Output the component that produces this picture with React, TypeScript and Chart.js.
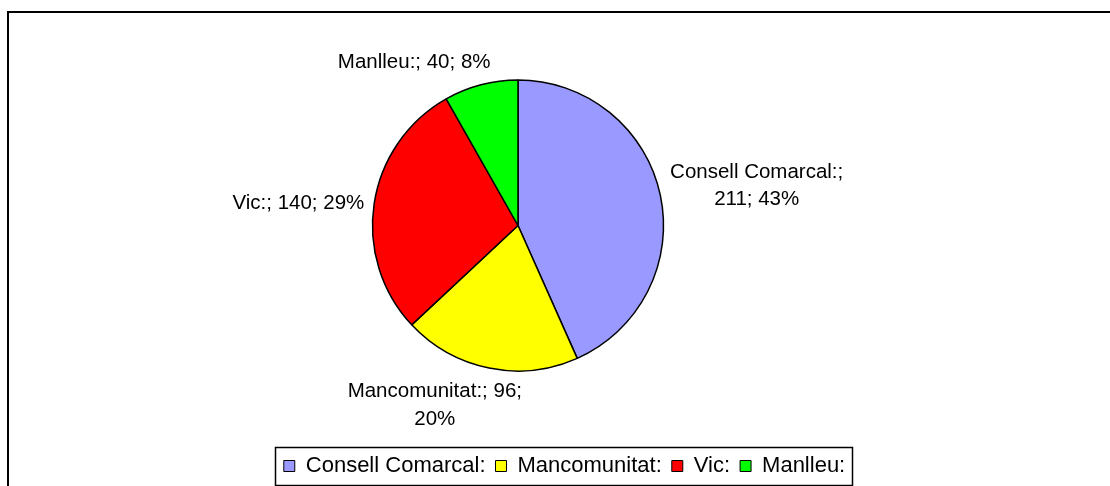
import React, { useEffect, useRef } from 'react';
import { Chart, registerables } from 'chart.js';

Chart.register(...registerables);

// ---- data ----
const categories = ['Consell Comarcal:', 'Mancomunitat:', 'Vic:', 'Manlleu:'];
const values = [211, 96, 140, 40];
const colors = ['#9999FF', '#FFFF00', '#FF0000', '#00FF00'];

// ---- label placement (alignment of label box relative to anchor on slice ray) ----
const labelAlign: [number, number][] = [
  [0, 0.635],
  [0.8, 0],
  [1, 0.45],
  [0.92, 0.95],
];

const FONT = "'Liberation Sans', Arial, Helvetica, sans-serif";
const LABEL_SIZE = 20.5;
const LINE = 27.5;

function wrap(ctx: CanvasRenderingContext2D, text: string, maxW: number): string[] {
  const words = text.split(' ');
  const lines: string[] = [];
  let cur = '';
  for (const w of words) {
    const t = cur ? cur + ' ' + w : w;
    if (cur && ctx.measureText(t).width > maxW) {
      lines.push(cur);
      cur = w;
    } else cur = t;
  }
  if (cur) lines.push(cur);
  return lines;
}

const framePlugin = {
  id: 'frame',
  beforeDraw(chart: any) {
    const ctx = chart.ctx;
    ctx.save();
    ctx.fillStyle = '#000';
    ctx.fillRect(0, 0, chart.width, 2);
    ctx.fillRect(0, 0, 2, chart.height);
    ctx.restore();
  },
};

const shiftLegend = {
  id: 'shiftLegend',
  afterLayout(chart: any) {
    const lg = chart.legend;
    if (!lg) return;
    lg.left += 46.5;
    lg.right += 46.5;
    lg.top += 5;
    lg.bottom += 5;
  },
};

const legendBorder = {
  id: 'legendBorder',
  afterDraw(chart: any) {
    const lg = chart.legend;
    if (!lg || !lg.legendHitBoxes || !lg.legendHitBoxes.length) return;
    const hb = lg.legendHitBoxes;
    const first = hb[0];
    const last = hb[hb.length - 1];
    const mid = first.top + first.height / 2;
    const l = Math.round(first.left - 9) + 0.5;
    const r = Math.round(last.left + last.width + 7) + 0.5;
    const t = Math.round(mid - 19) + 0.5;
    const b = Math.round(mid + 19) + 0.5;
    const ctx = chart.ctx;
    ctx.save();
    ctx.strokeStyle = '#000';
    ctx.lineWidth = 1.5;
    ctx.strokeRect(l, t, r - l, b - t);
    ctx.restore();
  },
};

const sliceLabels = {
  id: 'sliceLabels',
  afterDatasetsDraw(chart: any) {
    const ctx = chart.ctx;
    const meta = chart.getDatasetMeta(0);
    const total = values.reduce((a, b) => a + b, 0);
    ctx.save();
    ctx.font = `${LABEL_SIZE}px ${FONT}`;
    ctx.fillStyle = '#000';
    ctx.textAlign = 'center';
    ctx.textBaseline = 'middle';
    meta.data.forEach((arc: any, i: number) => {
      const { x, y, startAngle, endAngle, outerRadius } = arc.getProps(
        ['x', 'y', 'startAngle', 'endAngle', 'outerRadius'],
        true
      );
      const mid = (startAngle + endAngle) / 2;
      const R = outerRadius + 10;
      const ax = x + R * Math.cos(mid);
      const ay = y + R * Math.sin(mid);
      const pct = Math.round((values[i] / total) * 100);
      const text = `${categories[i]}; ${values[i]}; ${pct}%`;
      const lines = wrap(ctx, text, 190);
      const w = Math.max(...lines.map((l) => ctx.measureText(l).width));
      const h = lines.length * LINE;
      const left = ax - labelAlign[i][0] * w;
      const top = ay - labelAlign[i][1] * h;
      lines.forEach((l, k) => ctx.fillText(l, left + w / 2, top + LINE * (k + 0.5)));
    });
    ctx.restore();
  },
};

export default function App() {
  const ref = useRef<HTMLCanvasElement>(null);
  useEffect(() => {
    if (!ref.current) return;
    const chart = new Chart(ref.current, {
      type: 'pie',
      data: {
        labels: categories,
        datasets: [
          {
            data: values,
            backgroundColor: colors,
            borderColor: '#000',
            borderWidth: 1.5,
            radius: 145.5,
          } as any,
        ],
      },
      options: {
        responsive: false,
        animation: false,
        layout: { padding: { left: 0, right: 93, top: 0, bottom: 9 } },
        plugins: {
          legend: {
            position: 'bottom',
            labels: {
              boxWidth: 11,
              boxHeight: 11,
              padding: 10,
              color: '#000',
              font: { family: FONT, size: 22 },
              generateLabels(chart: any) {
                const items = Chart.overrides.pie.plugins.legend.labels.generateLabels(chart);
                return items.map((it: any) => ({ ...it, lineWidth: 1 }));
              },
            },
          },
          tooltip: { enabled: false },
        },
      } as any,
      plugins: [framePlugin, shiftLegend, sliceLabels, legendBorder],
    });
    return () => chart.destroy();
  }, []);
  return (
    <div
      style={{
        position: 'fixed',
        left: 0,
        top: 0,
        width: 1110,
        height: 486,
        overflow: 'hidden',
        background: '#fff',
      }}
    >
      <canvas
        ref={ref}
        width={1115}
        height={480}
        style={{ position: 'absolute', left: 7, top: 11, width: 1115, height: 480 }}
      />
    </div>
  );
}
